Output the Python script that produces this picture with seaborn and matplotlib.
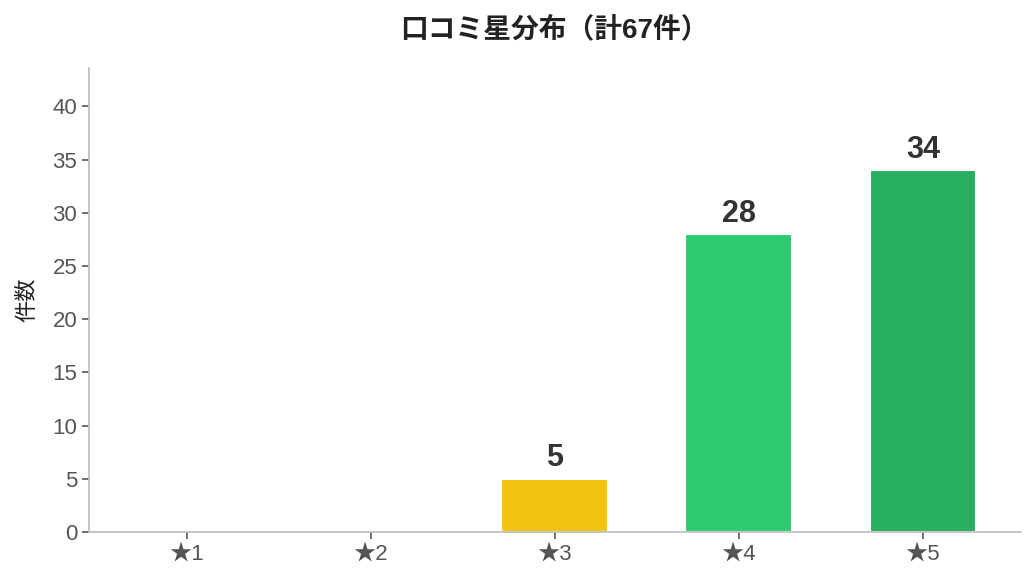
import matplotlib
matplotlib.use("Agg")
import matplotlib.pyplot as plt
import seaborn as sns
import pandas as pd

categories = ["★1", "★2", "★3", "★4", "★5"]
counts = [0, 0, 5, 28, 34]
colors = ["#e74c3c", "#e67e22", "#f1c40f", "#2ecc71", "#27ae60"]
title = "口コミ星分布（計67件）"
ylabel = "件数"

sns.set_theme(style="white")
plt.rcParams['font.family'] = ['Liberation Sans', 'Noto Sans CJK JP', 'DejaVu Sans']

df = pd.DataFrame({"star": categories, "count": counts})

fig, ax = plt.subplots(figsize=(10.35, 5.82), dpi=100)
sns.barplot(data=df, x="star", y="count", hue="star", palette=colors,
            saturation=1, legend=False, width=0.58, edgecolor="white",
            linewidth=1.5, ax=ax)

for i, v in enumerate(counts):
    if v > 0:
        ax.text(i, v + 0.5, str(v), ha="center", va="bottom",
                fontsize=22, fontweight="bold", color="#333333")

ax.set_ylim(0, 43.6)
ax.set_xlim(-0.53, 4.53)
ax.set_title(title, fontsize=20, fontweight="bold", color="#222222", pad=22)
ax.set_ylabel(ylabel, fontsize=16, color="#222222", labelpad=10)
ax.set_xlabel("")
ax.set_yticks(range(0, 41, 5))
sns.despine(ax=ax)
for s in ["left", "bottom"]:
    ax.spines[s].set_color("#bbbbbb")
    ax.spines[s].set_linewidth(1.2)
ax.tick_params(axis="both", colors="#555555", labelsize=16, length=5, width=1.2,
               direction="out", bottom=True, left=True)

fig.subplots_adjust(left=0.086, right=0.986, top=0.883, bottom=0.086)
fig.savefig("out.png", dpi=100)
